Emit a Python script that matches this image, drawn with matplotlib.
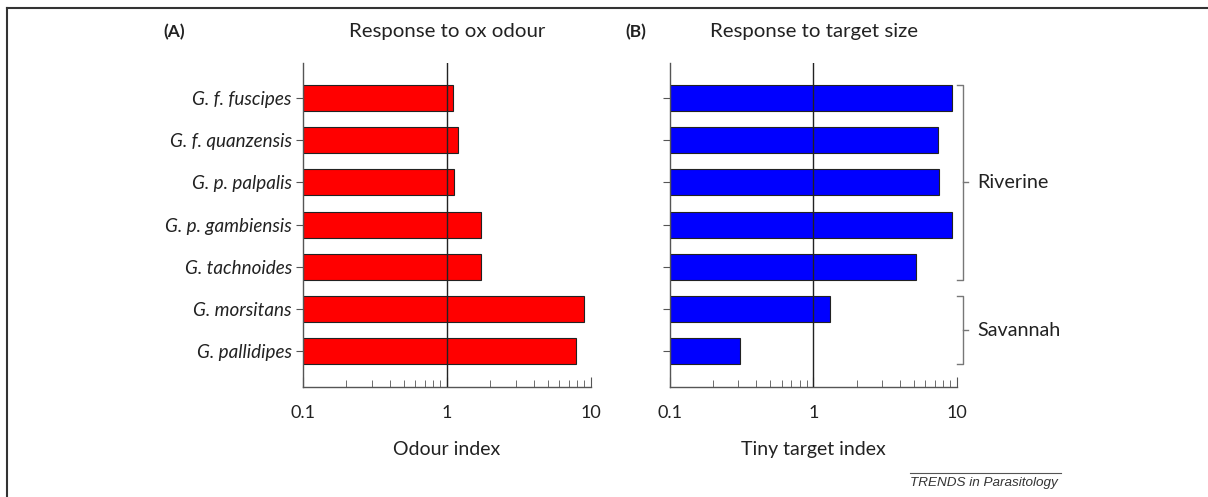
import matplotlib.pyplot as plt
from matplotlib.ticker import FixedLocator, NullFormatter, LogLocator

plt.rcParams['font.family'] = ['Lato', 'DejaVu Sans']

species = ["G. f. fuscipes", "G. f. quanzensis", "G. p. palpalis",
           "G. p. gambiensis", "G. tachnoides", "G. morsitans", "G. pallidipes"]
odour_index = [1.10, 1.19, 1.12, 1.72, 1.72, 8.9, 7.9]
tiny_target_index = [9.3, 7.4, 7.5, 9.3, 5.2, 1.30, 0.31]
groups = [("Riverine", 0, 4), ("Savannah", 5, 6)]

text_col = "#222222"
fig = plt.figure(figsize=(12.08, 4.97), dpi=100)
ax_a = fig.add_axes([0.2508, 0.2213, 0.2384, 0.6519])
ax_b = fig.add_axes([0.5546, 0.2213, 0.2376, 0.6519])

ypos = list(range(len(species)))


def draw_panel(ax, values, color, xlabel):
    ax.barh(ypos, [v - 0.1 for v in values], left=0.1, height=0.62,
            color=color, edgecolor="#222222", linewidth=0.8, zorder=2)
    ax.set_xscale("log")
    ax.set_xlim(0.1, 10)
    ax.set_ylim(6.85, -0.83)
    ax.axvline(1, color="#222222", lw=1, zorder=3)
    for s in ["top", "right"]:
        ax.spines[s].set_visible(False)
    for s in ["left", "bottom"]:
        ax.spines[s].set_color("#555555")
        ax.spines[s].set_linewidth(1)
    ax.xaxis.set_major_locator(FixedLocator([0.1, 1, 10]))
    ax.xaxis.set_minor_locator(LogLocator(base=10, subs=range(2, 10)))
    ax.xaxis.set_minor_formatter(NullFormatter())
    ax.set_xticklabels(["0.1", "1", "10"])
    ax.tick_params(axis="x", which="major", direction="in", length=7,
                   color="#555555", labelsize=13, pad=13, labelcolor=text_col)
    ax.tick_params(axis="x", which="minor", direction="in", length=5,
                   color="#555555")
    ax.set_yticks(ypos)
    ax.tick_params(axis="y", direction="out", length=5, color="#555555",
                   labelsize=13.6, pad=3, labelcolor=text_col)
    ax.set_xlabel(xlabel, fontsize=14, color=text_col, labelpad=14)


draw_panel(ax_a, odour_index, "#ff0000", "Odour index")
ax_a.set_yticklabels(species, style="italic")
draw_panel(ax_b, tiny_target_index, "#0000ff", "Tiny target index")
ax_b.set_yticklabels([])

# panel headings
fig.text(163 / 1208, 1 - 32 / 497, "(A)", fontsize=12.5, fontweight="bold",
         va="center", color=text_col)
fig.text(447 / 1208, 1 - 32 / 497, "Response to ox odour", fontsize=14.7,
         ha="center", va="center", color=text_col)
fig.text(625 / 1208, 1 - 32 / 497, "(B)", fontsize=12.5, fontweight="bold",
         va="center", color=text_col)
fig.text(814 / 1208, 1 - 32 / 497, "Response to target size", fontsize=14.7,
         ha="center", va="center", color=text_col)

# habitat brackets beside panel B
trans = ax_b.get_yaxis_transform()
for name, i0, i1 in groups:
    top, bot = i0 - 0.31, i1 + 0.31
    mid = (top + bot) / 2
    ax_b.plot([1.0, 1.021, 1.021, 1.0], [top, top, bot, bot], transform=trans,
              color="#777777", lw=1, clip_on=False)
    ax_b.plot([1.021, 1.04], [mid, mid], transform=trans, color="#777777",
              lw=1, clip_on=False)
    ax_b.text(1.07, mid, name, transform=trans, fontsize=14.2, va="center",
              color=text_col)

# journal credit
fig.add_artist(plt.Line2D([910 / 1208, 1061 / 1208], [1 - 473 / 497, 1 - 473 / 497],
                          color="#555555", lw=0.8))
fig.text(910 / 1208, 1 - 483 / 497, "TRENDS in Parasitology", fontsize=9.7,
         style="italic", family="Liberation Sans", va="center", color="#333333")

# frame lines along the top and left edges
fig.add_artist(plt.Line2D([7 / 1208, 1], [1 - 8 / 497, 1 - 8 / 497],
                          color="#333333", lw=1.5))
fig.add_artist(plt.Line2D([7 / 1208, 7 / 1208], [0, 1 - 8 / 497],
                          color="#333333", lw=1.5))

fig.savefig("out.png", dpi=100)
